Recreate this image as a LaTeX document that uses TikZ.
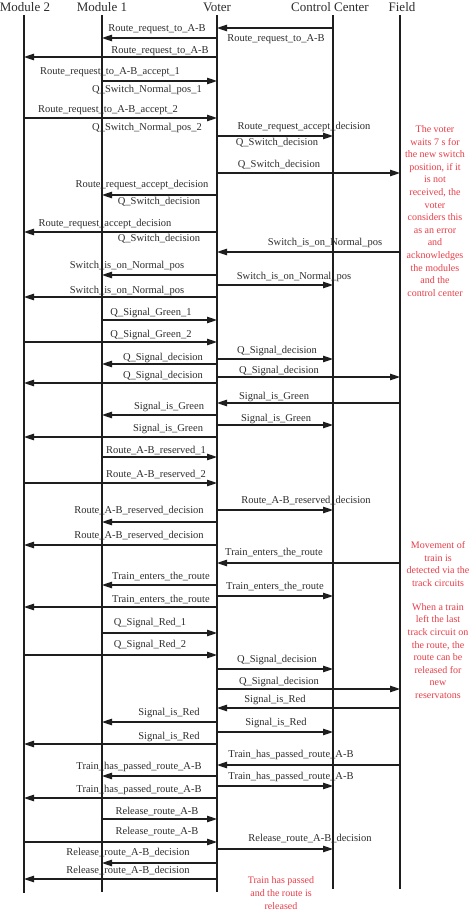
\documentclass[tikz,border=0pt]{standalone}
\usepackage{fontspec}
\setmainfont{Liberation Serif}
\usetikzlibrary{arrows.meta}
\definecolor{txt}{RGB}{45,45,45}
\definecolor{ln}{RGB}{30,30,30}
\definecolor{note}{RGB}{232,62,72}
\tikzset{
  head/.style={font=\fontsize{13}{15}\selectfont, text=txt, inner sep=0pt},
  life/.style={draw=ln, line width=1.8pt},
  msg/.style={draw=ln, line width=1.1pt, -{Triangle[length=10pt,width=6.5pt]}},
  lbl/.style={font=\fontsize{10.5}{12}\selectfont, text=txt, inner sep=0pt, text height=7pt, text depth=2pt},
  notebox/.style={font=\fontsize{10}{12.6}\selectfont, text=note, align=center, inner sep=0pt}
}
\def\xA{24}\def\xB{102}\def\xC{217}\def\xD{333}\def\xE{400}
\newcommand\msgline[4]{%
  \coordinate (s#1) at (#3,#2);
  \coordinate (t#1) at (#4,#2);
  \draw[msg] (s#1) -- (t#1);}
\newcommand\lab[4]{\node[lbl] (l#1) at (#2,#3) {#4};}
\begin{document}
\begin{tikzpicture}[x=1pt,y=-1pt]
\useasboundingbox[fill=white] (0,0) rectangle (474,913);
% headers
\node[head] (hA) at (25,7) {Module 2};
\node[head] (hB) at (102,7) {Module 1};
\node[head] (hC) at (217,7) {Voter};
\node[head] (hD) at (330,7) {Control Center};
\node[head] (hE) at (402,7) {Field};
% lifelines
\coordinate (aT) at (\xA,15); \coordinate (aB) at (\xA,893);
\coordinate (bT) at (\xB,15); \coordinate (bB) at (\xB,892);
\coordinate (cT) at (\xC,15); \coordinate (cB) at (\xC,892);
\coordinate (dT) at (\xD,15); \coordinate (dB) at (\xD,889);
\coordinate (eT) at (\xE,15); \coordinate (eB) at (\xE,889);
\draw[life] (aT) -- (aB);
\draw[life] (bT) -- (bB);
\draw[life] (cT) -- (cB);
\draw[life] (dT) -- (dB);
\draw[life] (eT) -- (eB);
% messages
\msgline{1}{28}{\xD}{\xC}   \lab{1}{276}{39}{Route\_request\_to\_A-B}
\msgline{2}{38}{\xC}{\xB}   \lab{2}{157}{29}{Route\_request\_to\_A-B}
\msgline{3}{57}{\xC}{\xA}   \lab{3}{160}{51}{Route\_request\_to\_A-B}
\msgline{4}{81}{\xB}{\xC}   \lab{4}{110}{72}{Route\_request\_to\_A-B\_accept\_1}
                            \lab{4b}{147}{90}{Q\_Switch\_Normal\_pos\_1}
\msgline{5}{118}{\xA}{\xC}  \lab{5}{108}{110}{Route\_request\_to\_A-B\_accept\_2}
                            \lab{5b}{147}{128}{Q\_Switch\_Normal\_pos\_2}
\msgline{6}{136}{\xC}{\xD}  \lab{6}{304}{127}{Route\_request\_accept\_decision}
                            \lab{6b}{277}{143}{Q\_Switch\_decision}
\msgline{7}{173}{\xC}{\xE}  \lab{7}{279}{165}{Q\_Switch\_decision}
\msgline{8}{195}{\xC}{\xB}  \lab{8}{142}{185}{Route\_request\_accept\_decision}
                            \lab{8b}{159}{202}{Q\_Switch\_decision}
\msgline{9}{232}{\xC}{\xA}  \lab{9}{105}{224}{Route\_request\_accept\_decision}
                            \lab{9b}{159}{239}{Q\_Switch\_decision}
\msgline{10}{252}{\xE}{\xC} \lab{10}{325}{243}{Switch\_is\_on\_Normal\_pos}
\msgline{11}{275}{\xC}{\xB} \lab{11}{127}{266}{Switch\_is\_on\_Normal\_pos}
\msgline{12}{285}{\xC}{\xD} \lab{12}{294}{277}{Switch\_is\_on\_Normal\_pos}
\msgline{13}{297}{\xC}{\xA} \lab{13}{127}{291}{Switch\_is\_on\_Normal\_pos}
\msgline{14}{320}{\xB}{\xC} \lab{14}{151}{313}{Q\_Signal\_Green\_1}
\msgline{15}{342}{\xA}{\xC} \lab{15}{151}{335}{Q\_Signal\_Green\_2}
\msgline{16}{359}{\xC}{\xD} \lab{16}{277}{351}{Q\_Signal\_decision}
\msgline{17}{364}{\xC}{\xB} \lab{17}{163}{358}{Q\_Signal\_decision}
\msgline{18}{377}{\xC}{\xE} \lab{18}{279}{371}{Q\_Signal\_decision}
\msgline{19}{383}{\xC}{\xA} \lab{19}{163}{376}{Q\_Signal\_decision}
\msgline{20}{403}{\xE}{\xC} \lab{20}{274}{397}{Signal\_is\_Green}
\msgline{21}{415}{\xC}{\xB} \lab{21}{169}{407}{Signal\_is\_Green}
\msgline{22}{425}{\xC}{\xD} \lab{22}{276}{419}{Signal\_is\_Green}
\msgline{23}{437}{\xC}{\xA} \lab{23}{168}{429}{Signal\_is\_Green}
\msgline{24}{457}{\xB}{\xC} \lab{24}{156}{451}{Route\_A-B\_reserved\_1}
\msgline{25}{483}{\xA}{\xC} \lab{25}{156}{475}{Route\_A-B\_reserved\_2}
\msgline{26}{510}{\xC}{\xD} \lab{26}{306}{501}{Route\_A-B\_reserved\_decision}
\msgline{27}{522}{\xC}{\xB} \lab{27}{139}{511}{Route\_A-B\_reserved\_decision}
\msgline{28}{545}{\xC}{\xA} \lab{28}{139}{536}{Route\_A-B\_reserved\_decision}
\msgline{29}{563}{\xE}{\xC} \lab{29}{274}{553}{Train\_enters\_the\_route}
\msgline{30}{585}{\xC}{\xB} \lab{30}{161}{577}{Train\_enters\_the\_route}
\msgline{31}{596}{\xC}{\xD} \lab{31}{275}{587}{Train\_enters\_the\_route}
\msgline{32}{607}{\xC}{\xA} \lab{32}{161}{600}{Train\_enters\_the\_route}
\msgline{33}{633}{\xB}{\xC} \lab{33}{150}{623}{Q\_Signal\_Red\_1}
\msgline{34}{655}{\xA}{\xC} \lab{34}{150}{645}{Q\_Signal\_Red\_2}
\msgline{35}{669}{\xC}{\xD} \lab{35}{277}{660}{Q\_Signal\_decision}
\msgline{36}{689}{\xC}{\xE} \lab{36}{279}{682}{Q\_Signal\_decision}
\msgline{37}{708}{\xE}{\xC} \lab{37}{275}{700}{Signal\_is\_Red}
\msgline{38}{722}{\xC}{\xB} \lab{38}{169}{713}{Signal\_is\_Red}
\msgline{39}{732}{\xC}{\xD} \lab{39}{276}{723}{Signal\_is\_Red}
\msgline{40}{744}{\xC}{\xA} \lab{40}{169}{737}{Signal\_is\_Red}
\msgline{41}{765}{\xE}{\xC} \lab{41}{291}{755}{Train\_has\_passed\_route\_A-B}
\msgline{42}{776}{\xC}{\xB} \lab{42}{139}{767}{Train\_has\_passed\_route\_A-B}
\msgline{43}{786}{\xC}{\xD} \lab{43}{291}{777}{Train\_has\_passed\_route\_A-B}
\msgline{44}{798}{\xC}{\xA} \lab{44}{139}{790}{Train\_has\_passed\_route\_A-B}
\msgline{45}{819}{\xB}{\xC} \lab{45}{157}{812}{Release\_route\_A-B}
\msgline{46}{842}{\xA}{\xC} \lab{46}{157}{832}{Release\_route\_A-B}
\msgline{47}{849}{\xC}{\xD} \lab{47}{310}{839}{Release\_route\_A-B\_decision}
\msgline{48}{863}{\xC}{\xB} \lab{48}{128}{853}{Release\_route\_A-B\_decision}
\msgline{49}{879}{\xC}{\xA} \lab{49}{128}{871}{Release\_route\_A-B\_decision}
% notes
\node[notebox] (n1) at (435,211) {The voter\\waits 7 s for\\the new switch\\position, if it\\is not\\received, the\\voter\\considers this\\as an error\\and\\acknowledges\\the modules\\and the\\control center};
\node[notebox] (n2) at (438,564) {Movement of\\train is\\detected via the\\track circuits};
\node[notebox] (n3) at (438,651) {When a train\\left the last\\track circuit on\\the route, the\\route can be\\released for\\new\\reservatons};
\node[notebox] (n4) at (281,893) {Train has passed\\and the route is\\released};
\end{tikzpicture}
\end{document}
